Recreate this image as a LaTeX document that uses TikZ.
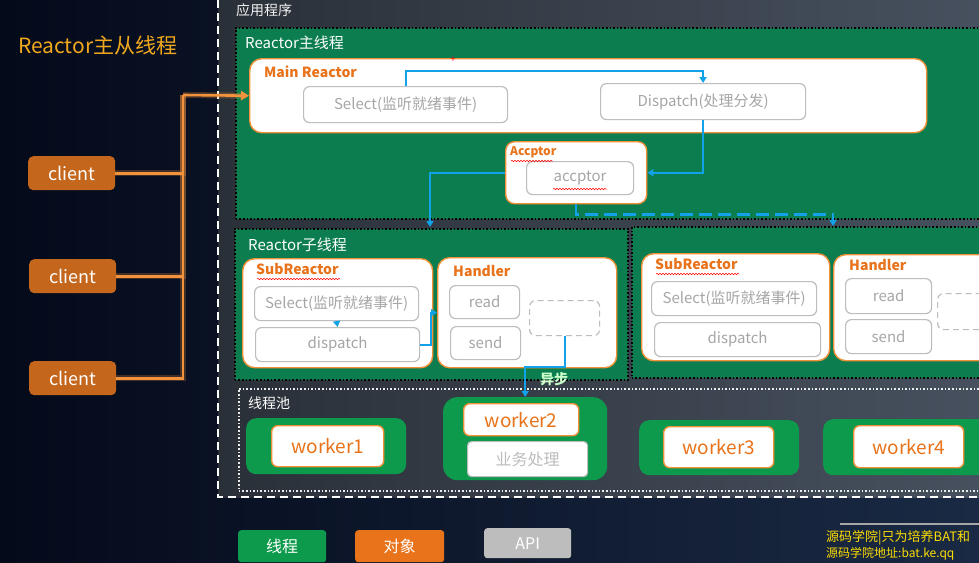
\documentclass[tikz,border=0pt]{standalone}
\usepackage{fontspec}
\setmainfont{Noto Sans CJK SC}
\usetikzlibrary{positioning,calc,arrows.meta,decorations.pathmorphing}

\begin{document}
\begin{tikzpicture}[x=1pt,y=-1pt,
  thread/.style={fill=thr,draw=black,dotted,line width=1.6pt,anchor=north west,inner sep=0pt},
  obj/.style={fill=white,draw=objline,line width=1.4pt,rounded corners=12pt,anchor=north west,inner sep=0pt},
  api/.style={fill=white,draw=apiline,line width=1.2pt,rounded corners=6pt,anchor=north west,inner sep=0pt,text=apitext,font=\fontsize{15}{17}\selectfont},
  grp/.style={fill=wgrp,rounded corners=10pt,anchor=north west,inner sep=0pt},
  work/.style={obj,rounded corners=6pt,text=objtext,font=\fontsize{19}{21}\selectfont},
  client/.style={fill=cli,rounded corners=5pt,anchor=north west,inner sep=0pt,text=white,font=\fontsize{18}{20}\selectfont},
  lgd/.style={rounded corners=3pt,anchor=north west,inner sep=0pt,text=white,font=\fontsize{16}{18}\selectfont},
  ttl/.style={anchor=west,inner sep=0pt,text=white,font=\fontsize{14}{16}\selectfont},
  otl/.style={anchor=west,inner sep=0pt,text=objtext,font=\bfseries\fontsize{14}{16}\selectfont},
  flow/.style={draw=flowc,line width=1.8pt,-{Triangle[length=6pt,width=7pt]}},
  feed/.style={draw=feedc,line width=2.6pt,preaction={draw=feedc,line width=6pt,opacity=0.25}},
  typo/.style={draw=red,line width=0.5pt,decorate,decoration={snake,amplitude=0.7pt,segment length=3pt}}]
\definecolor{thr}{HTML}{0B7D4E} \definecolor{wgrp}{HTML}{0E9A4C}
\definecolor{objline}{HTML}{F0913A} \definecolor{objtext}{HTML}{E8731A}
\definecolor{apiline}{HTML}{BDBDBD} \definecolor{apitext}{HTML}{A6A6A6}
\definecolor{cli}{HTML}{C4661C} \definecolor{feedc}{HTML}{F2923C}
\definecolor{flowc}{HTML}{12A2EA} \definecolor{bgL}{HTML}{040A1A}
\definecolor{bgR}{HTML}{1A2A44} \definecolor{appL}{HTML}{2A3038}
\definecolor{appR}{HTML}{47515F} \definecolor{headc}{HTML}{F2A81D}
\def\sel{Select(监听就绪事件)}
\useasboundingbox (0,0) rectangle (979,562);
\clip (0,0) rectangle (979,562);
% background and application area
\shade[left color=bgL,right color=bgR] (0,0) rectangle (979,562);
\shade[left color=appL,right color=appR] (218,-5) rectangle (995,497);
\draw[white,line width=1.6pt,dash pattern=on 8pt off 5pt] (218,0) -- (218,497) -- (995,497);
\node[anchor=west,inner sep=0pt,text=headc,font=\fontsize{21}{23}\selectfont] (head) at (18,45) {Reactor主从线程};
\node[ttl,font=\fontsize{14}{16}\selectfont,text=white!90!gray] (app) at (236,10) {应用程序};
% main reactor thread
\node[thread,minimum width=760,minimum height=191] (main) at (235,27) {};
\node[ttl,font=\fontsize{15}{17}\selectfont] (mainT) at (245,43) {Reactor主线程};
\node[obj,minimum width=677,minimum height=74] (mr) at (249,58) {};
\node[otl] (mrT) at (264,72) {Main Reactor};
\node[api,minimum width=204,minimum height=36] (sel) at (303,86) {\sel};
\node[api,minimum width=205,minimum height=36] (disp) at (600,83) {Dispatch(处理分发)};
\node[text=red,inner sep=0pt,font=\small] (mark) at (453,60) {+};
\node[obj,rounded corners=9pt,minimum width=141,minimum height=62] (acc) at (505,141) {};
\node[otl,font=\bfseries\fontsize{12}{14}\selectfont] (accT) at (510,152) {Accptor};
\node[api,minimum width=107,minimum height=33] (acci) at (526,161) {accptor};
\draw[typo] (511,161) -- (553,161);
\draw[typo] (553,189) -- (607,189);
% sub reactor threads
\node[thread,minimum width=393,minimum height=151] (sub1) at (234,228) {};
\node[ttl,font=\fontsize{15}{17}\selectfont] (sub1T) at (248,245) {Reactor子线程};
\node[thread,minimum width=360,minimum height=151] (sub2) at (631,226) {};
\coordinate (s1in) at (430,227);
\coordinate (s2in) at (833,226);
\node[obj,minimum width=190,minimum height=109] (sr1) at (242,258) {};
\node[otl] (sr1T) at (256,269) {SubReactor};
\draw[typo] (257,279) -- (340,279);
\node[api,minimum width=164,minimum height=34] (ssel1) at (254,286) {\sel};
\node[api,minimum width=164,minimum height=34] (sdis1) at (255,327) {dispatch};
\node[obj,minimum width=179,minimum height=110] (hd1) at (437,257) {};
\node[otl] (hd1T) at (453,271) {Handler};
\node[api,minimum width=70,minimum height=33] (rd1) at (449,285) {read};
\node[api,minimum width=70,minimum height=33] (sd1) at (450,326) {send};
\node[api,dashed,dash pattern=on 6pt off 4pt,minimum width=70,minimum height=35] (as1) at (529,300) {};
\node[obj,minimum width=188,minimum height=107] (sr2) at (641,253) {};
\node[otl] (sr2T) at (655,264) {SubReactor};
\draw[typo] (656,274) -- (739,274);
\node[api,minimum width=165,minimum height=34] (ssel2) at (651,281) {\sel};
\node[api,minimum width=166,minimum height=34] (sdis2) at (654,322) {dispatch};
\node[obj,minimum width=179,minimum height=106] (hd2) at (833,254) {};
\node[otl] (hd2T) at (849,265) {Handler};
\node[api,minimum width=86,minimum height=35] (rd2) at (845,278) {read};
\node[api,minimum width=86,minimum height=34] (sd2) at (845,319) {send};
\node[api,dashed,dash pattern=on 6pt off 4pt,minimum width=70,minimum height=36] (as2) at (937,293) {};
% thread pool
\node[draw=white!85!gray,dotted,line width=1.6pt,anchor=north west,minimum width=760,minimum height=102] (pool) at (238,388) {};
\node[ttl,font=\fontsize{14}{16}\selectfont] (poolT) at (248,403) {线程池};
\node[grp,minimum width=160,minimum height=56] (w1g) at (246,418) {};
\node[work,minimum width=112,minimum height=41] (w1) at (271,425) {worker1};
\node[grp,rounded corners=14pt,minimum width=164,minimum height=83] (w2g) at (443,397) {};
\node[work,minimum width=115,minimum height=32] (w2) at (463,403) {worker2};
\node[api,rounded corners=4pt,minimum width=120,minimum height=35,font=\fontsize{16}{18}\selectfont,text=apiline] (biz) at (467,441) {业务处理};
\node[grp,minimum width=160,minimum height=55] (w3g) at (639,420) {};
\node[work,minimum width=110,minimum height=41] (w3) at (663,426) {worker3};
\node[grp,minimum width=170,minimum height=56] (w4g) at (823,419) {};
\node[work,minimum width=110,minimum height=42] (w4) at (853,425) {worker4};
% flows
\draw[flow] (sel.north) -- ++(0,-15) -| (disp.north);
\draw[flow] (disp.south) |- (acc.east);
\draw[flow] (acc.west) -| (s1in);
\draw[flow,line width=2.4pt,dash pattern=on 13pt off 6pt] (acc.south) -- ++(0,10) -| (s2in);
\draw[flow] (ssel1.south) -- (sdis1.north);
\draw[flow] (sdis1.east) -- ++(11,0) |- (hd1.west);
\draw[flow] (as1.south) -- ++(0,31) -| (w2g.north);
\node[inner sep=0pt,text=white!80!green,font=\bfseries\fontsize{14}{16}\selectfont] (async) at (554,379) {异步};
% clients
\node[client,minimum width=87,minimum height=34] (c1) at (28,156) {client};
\node[client,minimum width=87,minimum height=34] (c2) at (29,259) {client};
\node[client,minimum width=87,minimum height=34] (c3) at (29,361) {client};
\coordinate (bus) at (183,95);
\foreach \c in {c1,c2,c3}
\draw[feed] (\c.east) -| (bus);
\draw[feed,-{Triangle[length=8pt,width=9pt]}] (bus) -- (mr.west);
% legend
\node[lgd,fill=wgrp,minimum width=88,minimum height=32] (lg1) at (238,530) {线程};
\node[lgd,fill=objtext,minimum width=89,minimum height=32] (lg2) at (355,530) {对象};
\node[lgd,fill=apiline,minimum width=87,minimum height=30] (lg3) at (484,528) {API};
% watermark
\draw[gray!70,line width=1.2pt] (840,524) -- (979,524);
\node[anchor=west,inner sep=0pt,text=yellow!80!orange,font=\fontsize{13}{15}\selectfont] (wm1) at (826,538) {源码学院|只为培养BAT和};
\node[anchor=west,inner sep=0pt,text=yellow!80!orange,font=\fontsize{12}{14}\selectfont] (wm2) at (826,554) {源码学院地址:bat.ke.qq};
\end{tikzpicture}
\end{document}
